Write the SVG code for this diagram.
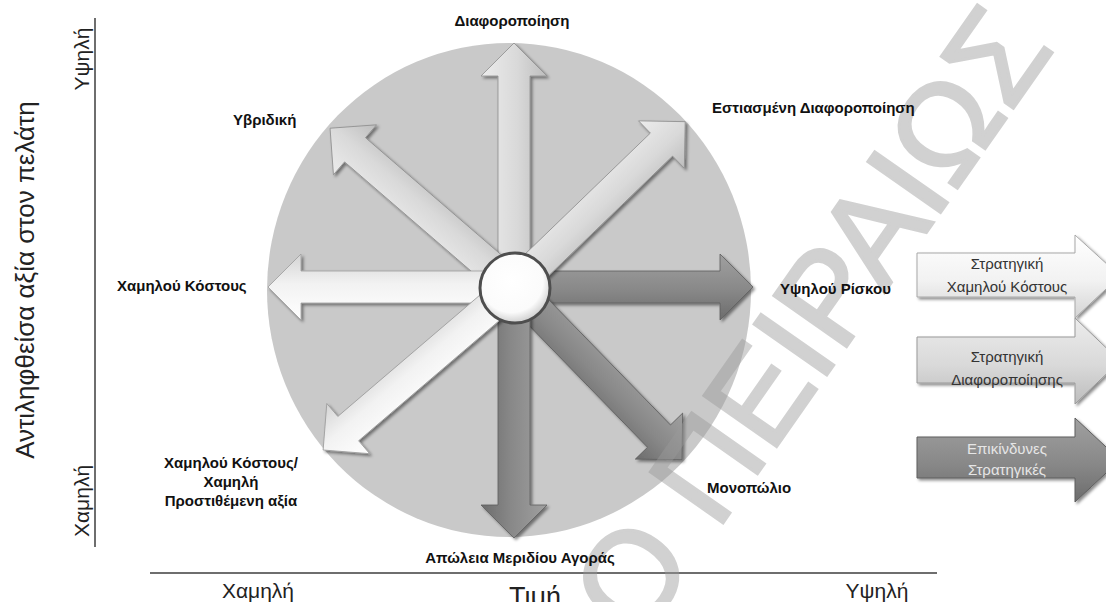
<svg xmlns="http://www.w3.org/2000/svg" width="1106" height="602" viewBox="0 0 1106 602">
  <style>
    .lbl { font-family: "Liberation Sans", Arial, sans-serif; font-weight: bold; font-size: 15px; fill: #111; }
    .ax { font-family: "Liberation Sans", Arial, sans-serif; font-size: 21px; fill: #222; }
    .leg { font-family: "Liberation Sans", Arial, sans-serif; font-size: 15px; fill: #333; text-anchor: middle; }
    .leg.inv { fill: #e6e6e6; }
    .axis { stroke: #6e6e6e; stroke-width: 2; fill: none; }
    .arW { fill: url(#gW); stroke: #9c9c9c; stroke-width: 0.8; }
    .arL { fill: url(#gL); stroke: #8e8e8e; stroke-width: 0.8; }
    .arD { fill: url(#gD); stroke: #5e5e5e; stroke-width: 0.8; }
  </style>
  <defs>
    <linearGradient id="gW" x1="0" y1="0" x2="0" y2="1">
      <stop offset="0" stop-color="#ffffff"/>
      <stop offset="0.55" stop-color="#f2f2f2"/>
      <stop offset="1" stop-color="#d4d4d4"/>
    </linearGradient>
    <linearGradient id="gL" x1="0" y1="0" x2="0" y2="1">
      <stop offset="0" stop-color="#ececec"/>
      <stop offset="0.55" stop-color="#d9d9d9"/>
      <stop offset="1" stop-color="#bdbdbd"/>
    </linearGradient>
    <linearGradient id="gD" x1="0" y1="0" x2="0" y2="1">
      <stop offset="0" stop-color="#a0a0a0"/>
      <stop offset="0.55" stop-color="#888888"/>
      <stop offset="1" stop-color="#6c6c6c"/>
    </linearGradient>
    <radialGradient id="gHub" cx="0.45" cy="0.4" r="0.6">
      <stop offset="0" stop-color="#ffffff"/>
      <stop offset="0.75" stop-color="#fbfbfb"/>
      <stop offset="1" stop-color="#d0d0d0"/>
    </radialGradient>
    <filter id="sh" x="-20%" y="-20%" width="140%" height="140%">
      <feDropShadow dx="2" dy="2" stdDeviation="1.5" flood-color="#000" flood-opacity="0.45"/>
    </filter>
  </defs>

  <rect width="1106" height="602" fill="#ffffff"/>

  <!-- axes -->
  <g id="axes">
    <line class="axis" x1="95" y1="18" x2="95" y2="547"/>
    <line class="axis" x1="150" y1="573" x2="937" y2="573"/>
    <text class="ax" text-anchor="middle" transform="translate(89,59) rotate(-90)">Υψηλή</text>
    <text class="ax" text-anchor="middle" transform="translate(89,501) rotate(-90)">Χαμηλή</text>
    <text class="ax" text-anchor="middle" style="font-size:26px" transform="translate(34,280) rotate(-90)">Αντιληφθείσα αξία στον πελάτη</text>
    <text class="ax" text-anchor="middle" x="258" y="598">Χαμηλή</text>
    <text class="ax" text-anchor="middle" x="877" y="598">Υψηλή</text>
    <text class="ax" text-anchor="middle" style="font-size:27px" x="535" y="606">Τιμή</text>
  </g>

  <!-- backdrop disc -->
  <g id="disc">
    <ellipse cx="509" cy="290" rx="242" ry="247" fill="#c9c9c9"/>
  </g>

  <!-- strategy arrows radiating from the hub -->
  <g id="connectors">
    <g filter="url(#sh)"><path class="arD" transform="translate(514,287) rotate(0)" d="M0,-16H206V-33L239,0L206,33V16H0Z"/></g>
    <g filter="url(#sh)"><path class="arD" transform="translate(514,287) rotate(45.8)" d="M0,-16H208V-33L241,0L208,33V16H0Z"/></g>
    <g filter="url(#sh)"><path class="arD" transform="translate(514,287) rotate(90)" d="M0,-16H218V-33L251,0L218,33V16H0Z"/></g>
    <g filter="url(#sh)"><path class="arL" transform="translate(514,287) rotate(-90)" d="M0,-16H211V-33L244,0L211,33V16H0Z"/></g>
    <g filter="url(#sh)"><path class="arL" transform="translate(514,287) rotate(-44)" d="M0,-16H205V-33L238,0L205,33V16H0Z"/></g>
    <g filter="url(#sh)"><path class="arL" transform="translate(514,287) rotate(-139.2)" d="M0,-16H210V-33L243,0L210,33V16H0Z"/></g>
    <g filter="url(#sh)"><path class="arW" transform="translate(514,287) rotate(180)" d="M0,-16H213V-33L246,0L213,33V16H0Z"/></g>
    <g filter="url(#sh)"><path class="arW" transform="translate(514,287) rotate(139.5)" d="M0,-16H218V-33L251,0L218,33V16H0Z"/></g>
  </g>

  <!-- hub -->
  <g id="hub">
    <circle cx="515" cy="288" r="35" fill="url(#gHub)" stroke="#4e4e4e" stroke-width="3"/>
  </g>

  <!-- legend arrows -->
  <g id="legend-low-cost">
    <path filter="url(#sh)" d="M917,253H1075V235L1120,276L1075,318V297H917Z" fill="url(#gW)" stroke="#a8a8a8" stroke-width="1"/>
    <text class="leg" x="1007" y="269">Στρατηγική</text>
    <text class="leg" x="1007" y="292">Χαμηλού Κόστους</text>
  </g>
  <g id="legend-differentiation">
    <path filter="url(#sh)" d="M917,337H1075V318L1120,361L1075,404V383H917Z" fill="url(#gL)" stroke="#999" stroke-width="1"/>
    <text class="leg" x="1007" y="362">Στρατηγική</text>
    <text class="leg" x="1007" y="385">Διαφοροποίησης</text>
  </g>
  <g id="legend-risky">
    <path filter="url(#sh)" d="M917,437H1075V418L1120,460L1075,502V478H917Z" fill="url(#gD)" stroke="#5e5e5e" stroke-width="1"/>
    <text class="leg inv" x="1007" y="454">Επικίνδυνες</text>
    <text class="leg inv" x="1007" y="475">Στρατηγικές</text>
  </g>

  <!-- repository watermark -->
  <g opacity="0.45">
    <text font-family="Liberation Sans, Arial, sans-serif" font-size="129" fill="#9a9a9a" stroke="#9a9a9a" stroke-width="3" transform="translate(639,643) rotate(-55)">Ο ΠΕΙΡΑΙΩΣ</text>
  </g>

  <!-- strategy labels -->
  <g id="n-diaforopoiisi"><text class="lbl" text-anchor="middle" x="512" y="26">Διαφοροποίηση</text></g>
  <g id="n-estiasmeni"><text class="lbl" x="712" y="113">Εστιασμένη Διαφοροποίηση</text></g>
  <g id="n-yvridiki"><text class="lbl" x="233" y="125">Υβριδική</text></g>
  <g id="n-xamilou-kostous"><text class="lbl" x="117" y="291">Χαμηλού Κόστους</text></g>
  <g id="n-ypsilou-riskou"><text class="lbl" x="780" y="294">Υψηλού Ρίσκου</text></g>
  <g id="n-monopolio"><text class="lbl" x="707" y="493">Μονοπώλιο</text></g>
  <g id="n-apoleia"><text class="lbl" text-anchor="middle" x="520" y="563">Απώλεια Μεριδίου Αγοράς</text></g>
  <g id="n-xamili-axia">
    <text class="lbl" text-anchor="middle" x="231" y="468">Χαμηλού Κόστους/</text>
    <text class="lbl" text-anchor="middle" x="231" y="487">Χαμηλή</text>
    <text class="lbl" text-anchor="middle" x="231" y="506">Προστιθέμενη αξία</text>
  </g>
</svg>
